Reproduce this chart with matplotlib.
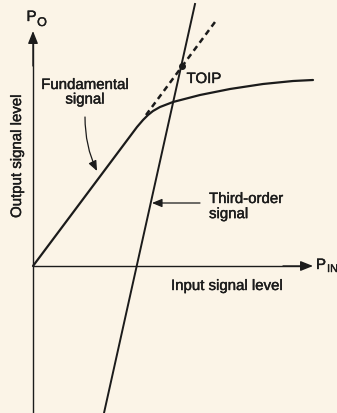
import matplotlib
matplotlib.use("Agg")
import matplotlib.pyplot as plt
import matplotlib.patheffects as pe
from matplotlib.patches import FancyArrowPatch

# input level / output level readings (arbitrary units, origin at axis crossing)
fund_x = [0, 104, 110, 115, 120, 127, 140, 167, 197, 230, 260, 280]
fund_y = [0, 139, 146, 151, 155, 159, 164, 171, 177, 182, 185, 186]

# small-signal extrapolation of the fundamental
extrap_x = [113, 182]
extrap_y = [151, 244]

# third-order product line
third_x = [71, 162]
third_y = [-147, 262]

toip = (149, 200)

ink = "#1b1b1b"
bg = "#fbf4e7"

plt.rcParams["font.family"] = ["Liberation Sans", "DejaVu Sans"]

fig = plt.figure(figsize=(3.37, 4.14), dpi=100, facecolor=bg)
ax = fig.add_axes([0, 0, 1, 1])
ax.set_facecolor(bg)
ax.set_xlim(-33, 304)
ax.set_ylim(-147, 267)
ax.axis("off")

# axes with arrow heads
ax.plot([0, 0], [-147, 226], color=ink, lw=1.0, solid_capstyle="butt")
ax.add_patch(FancyArrowPatch((0, 200), (0, 235), arrowstyle="-|>,head_length=0.75,head_width=0.3",
                             mutation_scale=10, color=ink, lw=1.0, shrinkA=0, shrinkB=0))
ax.plot([0, 272], [0, 0], color=ink, lw=1.0, solid_capstyle="butt")
ax.add_patch(FancyArrowPatch((250, 0), (280, 0), arrowstyle="-|>,head_length=0.75,head_width=0.3",
                             mutation_scale=10, color=ink, lw=1.0, shrinkA=0, shrinkB=0))

# curves
ax.plot(fund_x, fund_y, color=ink, lw=1.6, solid_joinstyle="round", solid_capstyle="round")
ax.plot(extrap_x, extrap_y, color=ink, lw=1.8, linestyle=(0, (2.3, 1.7)))
ax.plot(third_x, third_y, color=ink, lw=1.4)
ax.plot(*toip, marker="o", ms=4, color=ink)

fs = 10.8
heavy = [pe.withStroke(linewidth=0.3, foreground=ink)]


def label(x, y, s, **kw):
    kw.setdefault("fontsize", fs)
    return ax.text(x, y, s, color=ink, path_effects=heavy, **kw)


label(-1.5, 245, "P", ha="center", va="baseline")
label(9, 240, "O", fontsize=9, ha="center", va="baseline")
label(288, -3, "P", ha="center", va="baseline")
label(294, -6, "IN", fontsize=8, ha="left", va="baseline")

label(-16, 110, "Output signal level", rotation=90, ha="center", va="center")
label(194, -20, "Input signal level", ha="center", va="center")
label(52, 188, "Fundamental\nsignal", ha="center", va="top", linespacing=1.05)
label(176, 74, "Third-order\nsignal", ha="left", va="top", linespacing=1.1)
label(171, 187, "TOIP", ha="center", va="center")

# callout arrows
ax.add_patch(FancyArrowPatch((52, 149), (64, 95), connectionstyle="angle3,angleA=90,angleB=116",
                             arrowstyle="-|>,head_length=0.6,head_width=0.25",
                             mutation_scale=10, color=ink, lw=0.9, shrinkA=0, shrinkB=0))
ax.add_patch(FancyArrowPatch((167, 63), (119, 63),
                             arrowstyle="-|>,head_length=0.6,head_width=0.25",
                             mutation_scale=10, color=ink, lw=0.9, shrinkA=0, shrinkB=0))

fig.savefig("out.png", dpi=100, facecolor=bg)
